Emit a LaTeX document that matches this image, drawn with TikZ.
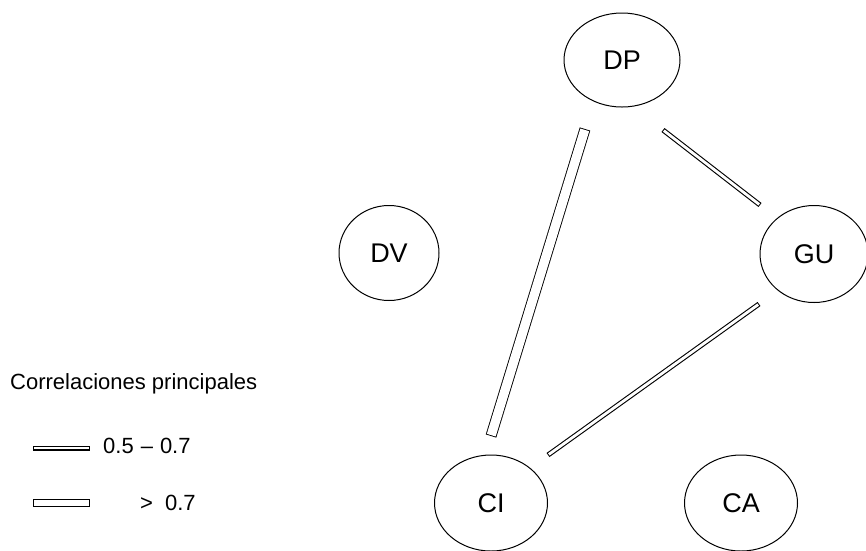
\documentclass[tikz,border=0pt]{standalone}
\usepackage{fontspec}
\setmainfont{Liberation Sans}
\usetikzlibrary{shapes.geometric}
\tikzset{
  var/.style={ellipse, draw=black, line width=1pt, inner sep=0pt, font=\fontsize{27}{31}\selectfont},
  narrowcorr/.style={draw=black, line width=5pt, postaction={draw=white, line width=2.8pt, shorten >=1pt, shorten <=1pt}},
  widecorr/.style={draw=black, line width=11pt, postaction={draw=white, line width=9.2pt, shorten >=0.9pt, shorten <=0.9pt}},
  legtext/.style={anchor=west, inner sep=0pt, font=\fontsize{22}{26}\selectfont}
}
\begin{document}
\begin{tikzpicture}[x=1pt,y=-1pt]
\useasboundingbox[fill=white] (0,0) rectangle (866,550);
% variables
\node[var, minimum width=116pt, minimum height=94pt] (DP) at (622,60) {DP};
\node[var, minimum width=100pt, minimum height=95pt] (DV) at (389,253) {DV};
\node[var, minimum width=108pt, minimum height=97pt] (GU) at (814,254) {GU};
\node[var, minimum width=113pt, minimum height=96pt] (CI) at (491,503) {CI};
\node[var, minimum width=113pt, minimum height=96pt] (CA) at (741,503) {CA};
% correlations
\draw[widecorr] ([shift={(-37,69)}]DP.center) -- ([shift={(0,-67)}]CI.center);
\draw[narrowcorr] ([shift={(41,70)}]DP.center) -- ([shift={(-54,-49)}]GU.center);
\draw[narrowcorr] ([shift={(57,-48)}]CI.center) -- ([shift={(-55,50)}]GU.center);
% legend
\node[legtext] (title) at (10,384) {Correlaciones principales};
\draw[draw=black, line width=5pt, postaction={draw=white, line width=2.4pt, shorten >=1pt, shorten <=1pt}] (33,448) -- (90,448);
\node[legtext] (l1) at (103,446) {0.5\hspace{7pt}--\hspace{7pt}0.7};
\draw[draw=black, line width=7.5pt, postaction={draw=white, line width=5.3pt, shorten >=1pt, shorten <=1pt}] (33,503) -- (90,503);
\node[legtext] (l2) at (140,503) {>\hspace{12pt}0.7};
\end{tikzpicture}
\end{document}
